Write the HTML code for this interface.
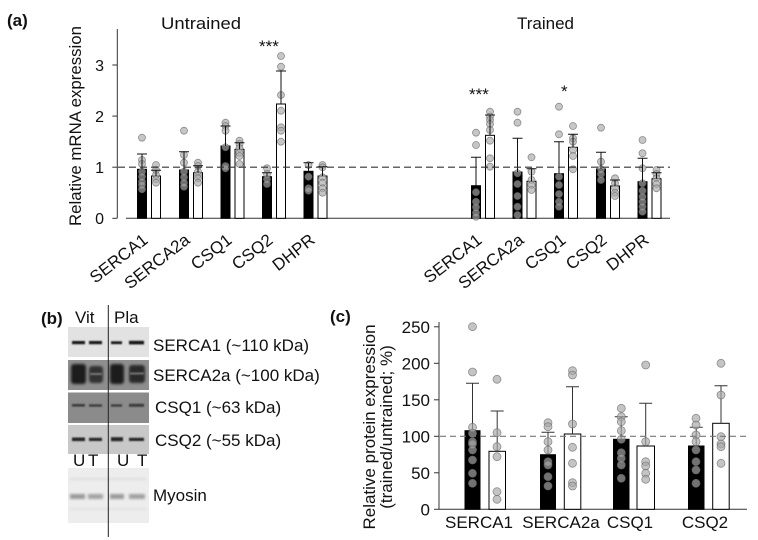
<!DOCTYPE html>
<html><head><meta charset="utf-8"><style>
html,body{margin:0;padding:0;background:#fff;}
svg{display:block;}
text{font-family:"Liberation Sans",Arial,sans-serif;fill:#111;}
</style></head><body>
<svg width="758" height="540" viewBox="0 0 758 540" xmlns="http://www.w3.org/2000/svg">
<defs>
<filter id="bl1" x="-20%" y="-100%" width="140%" height="300%"><feGaussianBlur stdDeviation="0.7"/></filter>
<filter id="bl2" x="-20%" y="-50%" width="140%" height="200%"><feGaussianBlur stdDeviation="1.3"/></filter>
</defs>
<rect width="758" height="540" fill="#fff"/>

<!-- ============ PANEL A ============ -->
<text x="7" y="26" font-size="17" font-weight="bold">(a)</text>
<text x="161" y="29" font-size="17" textLength="80" lengthAdjust="spacingAndGlyphs">Untrained</text>
<text x="517" y="29" font-size="17">Trained</text>
<text transform="translate(81,126) rotate(-90)" font-size="17" text-anchor="middle" textLength="200" lengthAdjust="spacingAndGlyphs">Relative mRNA expression</text>

<g stroke="#333" stroke-width="1">
<line x1="117.3" y1="29" x2="117.3" y2="218.3"/>
<line x1="112.3" y1="218.3" x2="117.3" y2="218.3"/>
<line x1="112.3" y1="167.2" x2="117.3" y2="167.2"/>
<line x1="112.3" y1="116.1" x2="117.3" y2="116.1"/>
<line x1="112.3" y1="65" x2="117.3" y2="65"/>
<line x1="126" y1="218.3" x2="670" y2="218.3"/>
</g>
<g font-size="16" text-anchor="end">
<text x="104" y="224">0</text>
<text x="104" y="173">1</text>
<text x="104" y="122">2</text>
<text x="104" y="71">3</text>
</g>

<!-- bars A untrained -->
<g stroke="#000" stroke-width="1">
<rect x="137.5" y="169.3" width="9" height="49" fill="#000"/>
<rect x="151.5" y="176" width="9" height="42.3" fill="#fff"/>
<rect x="179.5" y="170" width="9" height="48.3" fill="#000"/>
<rect x="193.5" y="172.7" width="9" height="45.6" fill="#fff"/>
<rect x="221" y="146" width="9" height="72.3" fill="#000"/>
<rect x="235" y="149.3" width="9" height="69" fill="#fff"/>
<rect x="262.5" y="176.7" width="9" height="41.6" fill="#000"/>
<rect x="276.5" y="104" width="9" height="114.3" fill="#fff"/>
<rect x="304" y="171.3" width="9" height="47" fill="#000"/>
<rect x="318" y="176" width="9" height="42.3" fill="#fff"/>
<!-- trained -->
<rect x="471.5" y="185.7" width="9" height="32.6" fill="#000"/>
<rect x="485.5" y="135.3" width="9" height="83" fill="#fff"/>
<rect x="513" y="172" width="9" height="46.3" fill="#000"/>
<rect x="527" y="181.3" width="9" height="37" fill="#fff"/>
<rect x="554.5" y="173.7" width="9" height="44.6" fill="#000"/>
<rect x="568.5" y="147.3" width="9" height="71" fill="#fff"/>
<rect x="596.5" y="169" width="9" height="49.3" fill="#000"/>
<rect x="610.5" y="186" width="9" height="32.3" fill="#fff"/>
<rect x="638" y="181.7" width="9" height="36.6" fill="#000"/>
<rect x="652" y="178.7" width="9" height="39.6" fill="#fff"/>
</g>

<!-- dots A -->
<g fill="#a8a8a8" fill-opacity="0.66" stroke="#6a6a6a" stroke-opacity="0.7" stroke-width="0.8">
<circle cx="142" cy="137.7" r="3.5"/><circle cx="142" cy="160" r="3.5"/><circle cx="142" cy="164" r="3.5"/><circle cx="142" cy="171.7" r="3.5"/><circle cx="142" cy="176.7" r="3.5"/><circle cx="142" cy="181.7" r="3.5"/><circle cx="142" cy="185" r="3.5"/><circle cx="142" cy="189.3" r="3.5"/>
<circle cx="156" cy="165" r="3.5"/><circle cx="156" cy="170" r="3.5"/><circle cx="156" cy="175" r="3.5"/><circle cx="156" cy="179.3" r="3.5"/><circle cx="156" cy="182.7" r="3.5"/>
<circle cx="184" cy="130.7" r="3.5"/><circle cx="184" cy="155" r="3.5"/><circle cx="184" cy="162.7" r="3.5"/><circle cx="184" cy="171.7" r="3.5"/><circle cx="184" cy="177.3" r="3.5"/><circle cx="184" cy="182.7" r="3.5"/><circle cx="184" cy="186.7" r="3.5"/>
<circle cx="198" cy="162.7" r="3.5"/><circle cx="198" cy="166" r="3.5"/><circle cx="198" cy="171.7" r="3.5"/><circle cx="198" cy="175" r="3.5"/><circle cx="198" cy="178.3" r="3.5"/><circle cx="198" cy="182.7" r="3.5"/>
<circle cx="225.5" cy="122.7" r="3.5"/><circle cx="225.5" cy="126" r="3.5"/><circle cx="225.5" cy="130.7" r="3.5"/><circle cx="225.5" cy="147.3" r="3.5"/><circle cx="225.5" cy="166" r="3.5"/><circle cx="225.5" cy="168.3" r="3.5"/>
<circle cx="239.5" cy="140.7" r="3.5"/><circle cx="239.5" cy="144" r="3.5"/><circle cx="239.5" cy="148.3" r="3.5"/><circle cx="239.5" cy="152.7" r="3.5"/><circle cx="239.5" cy="156" r="3.5"/><circle cx="239.5" cy="164" r="3.5"/>
<circle cx="267" cy="168.3" r="3.5"/><circle cx="267" cy="174" r="3.5"/><circle cx="267" cy="179.3" r="3.5"/><circle cx="267" cy="184" r="3.5"/>
<circle cx="281" cy="56" r="3.5"/><circle cx="281" cy="66.7" r="3.5"/><circle cx="281" cy="95" r="3.5"/><circle cx="281" cy="110.7" r="3.5"/><circle cx="281" cy="127.3" r="3.5"/><circle cx="281" cy="130.7" r="3.5"/><circle cx="281" cy="141.7" r="3.5"/>
<circle cx="308.5" cy="165" r="3.5"/><circle cx="308.5" cy="176.7" r="3.5"/><circle cx="308.5" cy="188.3" r="3.5"/><circle cx="308.5" cy="190.7" r="3.5"/>
<circle cx="322.5" cy="165" r="3.5"/><circle cx="322.5" cy="167.3" r="3.5"/><circle cx="322.5" cy="177.3" r="3.5"/><circle cx="322.5" cy="182.7" r="3.5"/><circle cx="322.5" cy="188.3" r="3.5"/><circle cx="322.5" cy="192.7" r="3.5"/>

<circle cx="476" cy="132.7" r="3.5"/><circle cx="476" cy="145" r="3.5"/><circle cx="476" cy="192.3" r="3.5"/><circle cx="476" cy="201.7" r="3.5"/><circle cx="476" cy="207.3" r="3.5"/><circle cx="476" cy="212.7" r="3.5"/><circle cx="476" cy="216.7" r="3.5"/>
<circle cx="490" cy="111.7" r="3.5"/><circle cx="490" cy="116.7" r="3.5"/><circle cx="490" cy="120" r="3.5"/><circle cx="490" cy="124" r="3.5"/><circle cx="490" cy="130" r="3.5"/><circle cx="490" cy="140.7" r="3.5"/><circle cx="490" cy="158.3" r="3.5"/><circle cx="490" cy="166.7" r="3.5"/>
<circle cx="517.5" cy="111.7" r="3.5"/><circle cx="517.5" cy="122.7" r="3.5"/><circle cx="517.5" cy="173.3" r="3.5"/><circle cx="517.5" cy="184" r="3.5"/><circle cx="517.5" cy="196" r="3.5"/><circle cx="517.5" cy="206.7" r="3.5"/><circle cx="517.5" cy="215" r="3.5"/>
<circle cx="531.5" cy="157.3" r="3.5"/><circle cx="531.5" cy="171.7" r="3.5"/><circle cx="531.5" cy="180" r="3.5"/><circle cx="531.5" cy="185" r="3.5"/><circle cx="531.5" cy="190" r="3.5"/>
<circle cx="559" cy="106.7" r="3.5"/><circle cx="559" cy="134.3" r="3.5"/><circle cx="559" cy="176.7" r="3.5"/><circle cx="559" cy="185" r="3.5"/><circle cx="559" cy="194" r="3.5"/><circle cx="559" cy="201.7" r="3.5"/><circle cx="559" cy="206.7" r="3.5"/>
<circle cx="573" cy="126" r="3.5"/><circle cx="573" cy="138.3" r="3.5"/><circle cx="573" cy="141.7" r="3.5"/><circle cx="573" cy="150" r="3.5"/><circle cx="573" cy="156" r="3.5"/><circle cx="573" cy="169.3" r="3.5"/>
<circle cx="601" cy="127.7" r="3.5"/><circle cx="601" cy="161.7" r="3.5"/><circle cx="601" cy="169.3" r="3.5"/><circle cx="601" cy="174" r="3.5"/><circle cx="601" cy="180" r="3.5"/>
<circle cx="615" cy="178.3" r="3.5"/><circle cx="615" cy="183.3" r="3.5"/><circle cx="615" cy="188.3" r="3.5"/><circle cx="615" cy="192.7" r="3.5"/><circle cx="615" cy="196" r="3.5"/>
<circle cx="642.5" cy="140" r="3.5"/><circle cx="642.5" cy="153.3" r="3.5"/><circle cx="642.5" cy="168.3" r="3.5"/><circle cx="642.5" cy="183.3" r="3.5"/><circle cx="642.5" cy="190.7" r="3.5"/><circle cx="642.5" cy="196.7" r="3.5"/><circle cx="642.5" cy="201.7" r="3.5"/><circle cx="642.5" cy="206.7" r="3.5"/><circle cx="642.5" cy="211.7" r="3.5"/>
<circle cx="656.5" cy="170" r="3.5"/><circle cx="656.5" cy="174" r="3.5"/><circle cx="656.5" cy="178.3" r="3.5"/><circle cx="656.5" cy="184" r="3.5"/><circle cx="656.5" cy="188.3" r="3.5"/>
</g>

<!-- error bars A -->
<g stroke="#111" stroke-width="1">
<path d="M142 169.3V154M137 154H147"/>
<path d="M156 176V170.3M151 170.3H161"/>
<path d="M184 170V151.7M179 151.7H189"/>
<path d="M198 172.7V165.7M193 165.7H203"/>
<path d="M225.5 146V126M220.5 126H230.5"/>
<path d="M239.5 149.3V142.7M234.5 142.7H244.5"/>
<path d="M267 176.7V172.7M262 172.7H272"/>
<path d="M281 104V71M276 71H286"/>
<path d="M308.5 171.3V162.7M303.5 162.7H313.5"/>
<path d="M322.5 176V166.7M317.5 166.7H327.5"/>
<path d="M476 185.7V157.3M471 157.3H481"/>
<path d="M490 135.3V115M485 115H495"/>
<path d="M517.5 172V138.3M512.5 138.3H522.5"/>
<path d="M531.5 181.3V168.7M526.5 168.7H536.5"/>
<path d="M559 173.7V141.7M554 141.7H564"/>
<path d="M573 147.3V134.3M568 134.3H578"/>
<path d="M601 169V152.3M596 152.3H606"/>
<path d="M615 186V180M610 180H620"/>
<path d="M642.5 181.7V158.3M637.5 158.3H647.5"/>
<path d="M656.5 178.7V172.7M651.5 172.7H661.5"/>
</g>

<line x1="118" y1="167.2" x2="670" y2="167.2" stroke="#333" stroke-width="1.1" stroke-dasharray="7,4"/>

<g font-size="17">
<text x="259" y="52">***</text>
<text x="469" y="100">***</text>
<text x="561" y="97">*</text>
</g>

<g font-size="17" text-anchor="end">
<text transform="translate(149,242) rotate(-38)">SERCA1</text>
<text transform="translate(191,242) rotate(-38)">SERCA2a</text>
<text transform="translate(233,242) rotate(-38)">CSQ1</text>
<text transform="translate(274,242) rotate(-38)">CSQ2</text>
<text transform="translate(316,242) rotate(-38)">DHPR</text>
<text transform="translate(483,242) rotate(-38)">SERCA1</text>
<text transform="translate(525,242) rotate(-38)">SERCA2a</text>
<text transform="translate(567,242) rotate(-38)">CSQ1</text>
<text transform="translate(608,242) rotate(-38)">CSQ2</text>
<text transform="translate(650,242) rotate(-38)">DHPR</text>
</g>

<!-- ============ PANEL B ============ -->
<text x="41" y="324" font-size="17" font-weight="bold">(b)</text>
<text x="75" y="323" font-size="17">Vit</text>
<text x="114" y="323" font-size="17">Pla</text>

<rect x="68" y="327" width="81" height="30" fill="#e2e2e2"/>
<g filter="url(#bl1)" fill="#151515">
<rect x="72" y="341" width="13" height="3.2"/>
<rect x="89" y="341" width="13" height="3.2"/>
<rect x="111" y="341.3" width="11" height="2.8"/>
<rect x="129" y="340.8" width="15" height="3.6"/>
</g>

<rect x="68" y="360" width="81" height="30" fill="#8e8e8e"/>
<g filter="url(#bl2)" fill="#1c1c1c">
<rect x="71" y="364" width="15" height="20" rx="3"/>
<rect x="89" y="366" width="14" height="17" rx="3" fill="#333"/>
<rect x="110" y="364" width="14" height="20" rx="3"/>
<rect x="129" y="365" width="16" height="18" rx="3" fill="#2a2a2a"/>
</g>
<g filter="url(#bl1)" fill="#777">
<rect x="90" y="373" width="12" height="2"/>
<rect x="130" y="372.5" width="14" height="2"/>
</g>

<rect x="68" y="392.5" width="81" height="30.5" fill="#8b8b8b"/>
<g filter="url(#bl1)" fill="#3a3a3a">
<rect x="72" y="404" width="13" height="2.6"/>
<rect x="89" y="404.3" width="13" height="2.4"/>
<rect x="111" y="404.3" width="11" height="2.4"/>
<rect x="129" y="403.8" width="15" height="3"/>
</g>

<rect x="68" y="425" width="81" height="29" fill="#c8c8c8"/>
<g filter="url(#bl1)" fill="#262626">
<rect x="72" y="437.5" width="13" height="3.6"/>
<rect x="89" y="437.8" width="13" height="3.2"/>
<rect x="111" y="437.2" width="12" height="4"/>
<rect x="129" y="437.8" width="15" height="3.2"/>
</g>

<g font-size="17">
<text x="73" y="466">U</text>
<text x="88" y="466">T</text>
<text x="117" y="466">U</text>
<text x="137" y="466">T</text>
</g>

<rect x="68" y="468" width="81" height="55" fill="#ededed"/>
<g filter="url(#bl2)">
<rect x="70" y="494" width="15" height="5" fill="#9a9a9a"/>
<rect x="88" y="494" width="15" height="5" fill="#a3a3a3"/>
<rect x="110" y="494" width="14" height="5" fill="#9a9a9a"/>
<rect x="129" y="494" width="16" height="5" fill="#a0a0a0"/>
<rect x="70" y="478" width="76" height="2" fill="#dcdcdc"/>
<rect x="70" y="508" width="76" height="2" fill="#e0e0e0"/>
</g>

<line x1="108.3" y1="305" x2="108.3" y2="537" stroke="#222" stroke-width="1"/>

<g font-size="17">
<text x="153" y="351">SERCA1 (~110 kDa)</text>
<text x="153" y="381">SERCA2a (~100 kDa)</text>
<text x="155" y="413">CSQ1 (~63 kDa)</text>
<text x="155" y="446">CSQ2 (~55 kDa)</text>
<text x="153" y="501">Myosin</text>
</g>

<!-- ============ PANEL C ============ -->
<text x="330" y="322" font-size="17" font-weight="bold">(c)</text>
<text transform="translate(375,427) rotate(-90)" font-size="17" text-anchor="middle">Relative protein expression</text>
<text transform="translate(392,427) rotate(-90)" font-size="17" text-anchor="middle">(trained/untrained; %)</text>

<g stroke="#333" stroke-width="1">
<line x1="439" y1="322" x2="439" y2="509.3"/>
<line x1="439" y1="509.3" x2="747" y2="509.3"/>
<line x1="434" y1="509.3" x2="439" y2="509.3"/>
<line x1="434" y1="472.8" x2="439" y2="472.8"/>
<line x1="434" y1="436.3" x2="439" y2="436.3"/>
<line x1="434" y1="399.8" x2="439" y2="399.8"/>
<line x1="434" y1="363.3" x2="439" y2="363.3"/>
<line x1="434" y1="326.8" x2="439" y2="326.8"/>
</g>
<g font-size="17" text-anchor="end">
<text x="430" y="515.5">0</text>
<text x="430" y="479">50</text>
<text x="430" y="442.5">100</text>
<text x="430" y="406">150</text>
<text x="430" y="369.5">200</text>
<text x="430" y="333">250</text>
</g>

<g stroke="#000" stroke-width="1">
<rect x="465" y="430.7" width="15" height="78.6" fill="#000"/>
<rect x="489" y="451.3" width="16.5" height="58" fill="#fff"/>
<rect x="540.5" y="454.7" width="15" height="54.6" fill="#000"/>
<rect x="564.3" y="434" width="16.5" height="75.3" fill="#fff"/>
<rect x="613.5" y="439.3" width="15.5" height="70" fill="#000"/>
<rect x="637" y="446" width="17.5" height="63.3" fill="#fff"/>
<rect x="688.5" y="446" width="15.5" height="63.3" fill="#000"/>
<rect x="712.7" y="423.3" width="16.5" height="86" fill="#fff"/>
</g>

<g stroke="#333" stroke-width="1">
<path d="M472.5 430.7V383.3M466 383.3H479"/>
<path d="M497.2 451.3V411M490.7 411H503.7"/>
<path d="M548 454.7V432.3M541.5 432.3H554.5"/>
<path d="M572.5 434V386.7M566 386.7H579"/>
<path d="M621.2 439.3V416.7M614.7 416.7H627.7"/>
<path d="M645.7 446V403.3M639.2 403.3H652.2"/>
<path d="M696.2 446V427.3M689.7 427.3H702.7"/>
<path d="M721 423.3V385.7M714.5 385.7H727.5"/>
</g>

<g fill="#a8a8a8" fill-opacity="0.68" stroke="#6a6a6a" stroke-opacity="0.7" stroke-width="0.8">
<circle cx="472.5" cy="326.7" r="4"/><circle cx="472.5" cy="372" r="4"/><circle cx="472.5" cy="427.3" r="4"/><circle cx="472.5" cy="433.3" r="4"/><circle cx="472.5" cy="441.7" r="4"/><circle cx="472.5" cy="444" r="4"/><circle cx="472.5" cy="450" r="4"/><circle cx="472.5" cy="460" r="4"/><circle cx="472.5" cy="473.3" r="4"/><circle cx="472.5" cy="483.3" r="4"/>
<circle cx="497" cy="379.3" r="4"/><circle cx="497" cy="432.7" r="4"/><circle cx="497" cy="446.7" r="4"/><circle cx="497" cy="456.7" r="4"/><circle cx="497" cy="491.7" r="4"/><circle cx="497" cy="499.3" r="4"/>
<circle cx="548" cy="422.7" r="4"/><circle cx="548" cy="426.7" r="4"/><circle cx="548" cy="441.7" r="4"/><circle cx="548" cy="450" r="4"/><circle cx="548" cy="461.7" r="4"/><circle cx="548" cy="465" r="4"/><circle cx="548" cy="476.7" r="4"/><circle cx="548" cy="486" r="4"/>
<circle cx="572.5" cy="370.7" r="4"/><circle cx="572.5" cy="375" r="4"/><circle cx="572.5" cy="424" r="4"/><circle cx="572.5" cy="447.3" r="4"/><circle cx="572.5" cy="463.3" r="4"/><circle cx="572.5" cy="482.7" r="4"/><circle cx="572.5" cy="486" r="4"/>
<circle cx="621.3" cy="408.3" r="4"/><circle cx="621.3" cy="416.7" r="4"/><circle cx="621.3" cy="421.7" r="4"/><circle cx="621.3" cy="430.7" r="4"/><circle cx="621.3" cy="439.3" r="4"/><circle cx="621.3" cy="452.7" r="4"/><circle cx="621.3" cy="458.3" r="4"/><circle cx="621.3" cy="465" r="4"/><circle cx="621.3" cy="478.3" r="4"/>
<circle cx="645.7" cy="365" r="4"/><circle cx="645.7" cy="441.7" r="4"/><circle cx="645.7" cy="461.7" r="4"/><circle cx="645.7" cy="466" r="4"/><circle cx="645.7" cy="473.3" r="4"/><circle cx="645.7" cy="479.3" r="4"/>
<circle cx="696" cy="418.3" r="4"/><circle cx="696" cy="425" r="4"/><circle cx="696" cy="435" r="4"/><circle cx="696" cy="441.7" r="4"/><circle cx="696" cy="450" r="4"/><circle cx="696" cy="461.7" r="4"/><circle cx="696" cy="470" r="4"/><circle cx="696" cy="483.3" r="4"/>
<circle cx="721" cy="363.3" r="4"/><circle cx="721" cy="395" r="4"/><circle cx="721" cy="436.7" r="4"/><circle cx="721" cy="444" r="4"/><circle cx="721" cy="446.7" r="4"/><circle cx="721" cy="463.3" r="4"/>
</g>

<line x1="440" y1="436.3" x2="747" y2="436.3" stroke="#777" stroke-width="1.2" stroke-dasharray="6,4"/>

<g font-size="17" text-anchor="middle">
<text x="479" y="528">SERCA1</text>
<text x="561" y="528">SERCA2a</text>
<text x="630" y="528">CSQ1</text>
<text x="705" y="528">CSQ2</text>
</g>
</svg>
</body></html>
